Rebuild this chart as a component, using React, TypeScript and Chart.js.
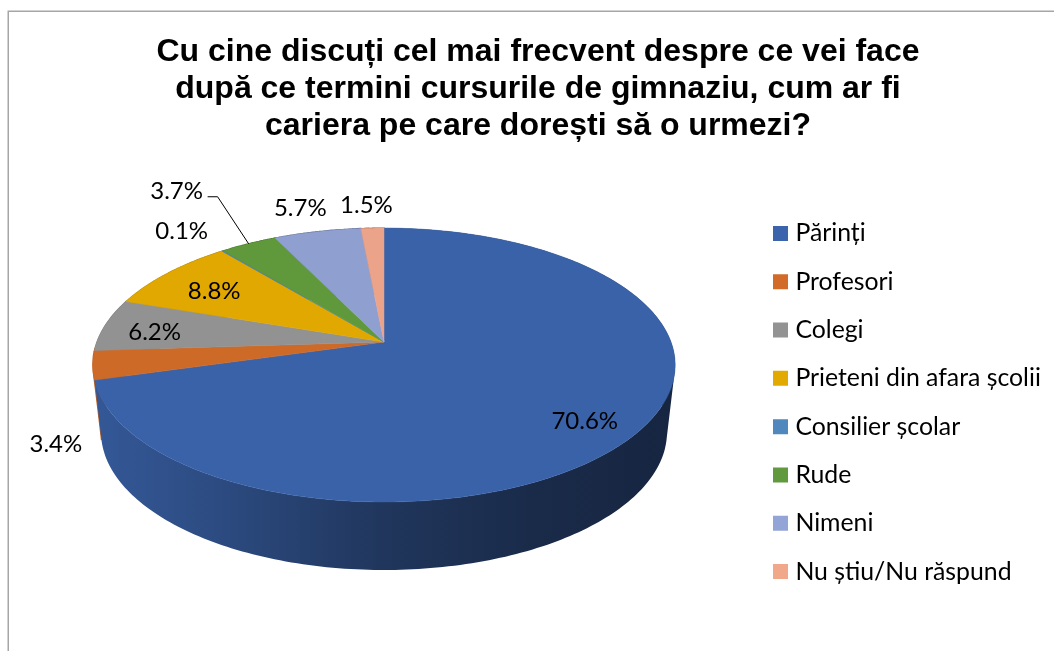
import React, { useEffect, useRef } from "react";
import { Chart, registerables } from "chart.js";

Chart.register(...registerables);

const titleLines = [
  "Cu cine discuți cel mai frecvent despre ce vei face",
  "după ce termini cursurile de gimnaziu, cum ar fi",
  "cariera pe care dorești să o urmezi?",
];
const categories = [
  "Părinți",
  "Profesori",
  "Colegi",
  "Prieteni din afara școlii",
  "Consilier școlar",
  "Rude",
  "Nimeni",
  "Nu știu/Nu răspund",
];
const shares = [70.6, 3.4, 6.2, 8.8, 0.1, 3.7, 5.7, 1.5];
const sliceColors = ["#3A62A8", "#CD6A28", "#929292", "#E0A800", "#4F86BA", "#5F993C", "#8F9FD0", "#EBA389"];
const legendColors = ["#3B64AD", "#D26B2A", "#939393", "#E2AA00", "#5087BD", "#619A3E", "#93A5D6", "#F1A78A"];
// label offset from the slice's rim mid-point
const labelOffsets: [number, number][] = [
  [-54, -10], [-37, 79], [49, 7], [46, 18], [-41, -20], [-72, -52], [-17, -23], [-6, -23],
];

// perspective pie geometry
const APEX_X = 384, APEX_Y = 342;
const R = 287, S = 133.1, K = 0.168;
const TOP_CY = 365, TOP_RX = 291, TOP_RY = 137;
const BOT_CY = 432, BOT_RX = 283, BOT_RY = 138;
const WALL_SHIFT = 0.052;
const LEGEND_LEFT = 754.5;
const LEGEND_SHIFT = 77;
const FONT = "Lato, 'Open Sans', sans-serif";

type Pt = { x: number; y: number };
const project = (t: number): Pt => {
  const u = Math.sin(t), v = Math.cos(t), w = 1 + K * v;
  return { x: APEX_X + (R * u) / w, y: APEX_Y - (S * v) / w };
};
const lower = (p: Pt): Pt => {
  const c = (p.x - APEX_X) / TOP_RX;
  const s = (p.y - TOP_CY) / TOP_RY;
  const s2 = Math.max(-1, Math.min(1, s - WALL_SHIFT * c * c));
  const c2 = Math.sign(c) * Math.sqrt(1 - s2 * s2);
  return { x: APEX_X + BOT_RX * c2, y: BOT_CY + BOT_RY * s2 };
};
const shade = (hex: string, f: number) => {
  const n = parseInt(hex.slice(1), 16);
  return `rgb(${((n >> 16) & 255) * f},${((n >> 8) & 255) * f},${(n & 255) * f})`;
};
const sweep = (a: number, b: number) => {
  const pts: number[] = [];
  const n = Math.max(2, Math.ceil(((b - a) * 180) / Math.PI));
  for (let i = 0; i <= n; i++) pts.push(a + ((b - a) * i) / n);
  return pts;
};
const signedArea = (q: Pt[]) =>
  q.reduce((sum, p, i) => {
    const n = q[(i + 1) % q.length];
    return sum + p.x * n.y - n.x * p.y;
  }, 0);

const frame = {
  id: "frame",
  beforeDraw(chart: any) {
    const { ctx, width, height } = chart;
    ctx.save();
    ctx.strokeStyle = "#a6a6a6";
    ctx.lineWidth = 1.5;
    ctx.beginPath();
    ctx.moveTo(8.25, height);
    ctx.lineTo(8.25, 11.25);
    ctx.lineTo(width, 11.25);
    ctx.stroke();
    ctx.restore();
  },
};

const pie3d = {
  id: "pie3d",
  afterLayout(chart: any) {
    chart.legend.left = LEGEND_LEFT;
    chart.legend.top += LEGEND_SHIFT;
    chart.legend.bottom += LEGEND_SHIFT;
  },
  beforeDatasetsDraw(chart: any) {
    const { ctx } = chart;
    const arcs = chart.getDatasetMeta(0).data;
    const span = (el: any): [number, number] => [el.startAngle + Math.PI / 2, el.endAngle + Math.PI / 2];
    ctx.save();
    // side wall, last slices first so the first slice sits on top at the left
    [...arcs].reverse().forEach((el: any, r: number) => {
      const i = arcs.length - 1 - r;
      const [a, b] = span(el);
      const top = sweep(a, b).map(project);
      const bottom = top.map(lower);
      const g = ctx.createLinearGradient(APEX_X - TOP_RX, 0, APEX_X + TOP_RX, 0);
      const c = sliceColors[i];
      g.addColorStop(0, shade(c, 0.9));
      g.addColorStop(0.2, shade(c, 0.78));
      g.addColorStop(0.5, shade(c, 0.55));
      g.addColorStop(0.75, shade(c, 0.44));
      g.addColorStop(1, shade(c, 0.38));
      ctx.fillStyle = g;
      ctx.strokeStyle = g;
      ctx.lineWidth = 1.2;
      ctx.beginPath();
      for (let j = 0; j + 1 < top.length; j++) {
        let q = [top[j], top[j + 1], bottom[j + 1], bottom[j]];
        if (signedArea(q) < 0) q = q.reverse();
        q.forEach((p, k) => (k ? ctx.lineTo(p.x, p.y) : ctx.moveTo(p.x, p.y)));
        ctx.closePath();
      }
      ctx.fill();
      if (i !== 0) ctx.stroke();
    });
    // top face
    arcs.forEach((el: any, i: number) => {
      const [a, b] = span(el);
      ctx.fillStyle = sliceColors[i];
      ctx.strokeStyle = sliceColors[i];
      ctx.lineWidth = 0.5;
      ctx.beginPath();
      ctx.moveTo(APEX_X, APEX_Y);
      sweep(a, b).map(project).forEach((p) => ctx.lineTo(p.x, p.y));
      ctx.closePath();
      ctx.fill();
      ctx.stroke();
    });
    ctx.restore();
    return false;
  },
  afterDraw(chart: any) {
    const { ctx } = chart;
    const arcs = chart.getDatasetMeta(0).data;
    ctx.save();
    ctx.fillStyle = "#000";
    ctx.font = `24px ${FONT}`;
    ctx.textAlign = "center";
    ctx.textBaseline = "middle";
    arcs.forEach((el: any, i: number) => {
      const mid = project((el.startAngle + el.endAngle) / 2 + Math.PI / 2);
      const [dx, dy] = labelOffsets[i];
      ctx.fillText(`${shares[i].toFixed(1)}%`, mid.x + dx, mid.y + dy);
      if (i === 5) {
        ctx.strokeStyle = "#000";
        ctx.lineWidth = 1;
        ctx.beginPath();
        ctx.moveTo(mid.x + dx + 31, mid.y + dy + 5);
        ctx.lineTo(mid.x + dx + 41, mid.y + dy + 5);
        ctx.lineTo(mid.x, mid.y);
        ctx.stroke();
      }
    });
    ctx.restore();
  },
};

export default function App() {
  const ref = useRef<HTMLCanvasElement>(null);
  useEffect(() => {
    const chart = new Chart(ref.current!, {
      type: "pie",
      data: {
        labels: categories,
        datasets: [{ data: shares, backgroundColor: sliceColors, borderWidth: 0 }],
      },
      plugins: [frame, pie3d],
      options: {
        animation: false,
        responsive: false,
        layout: { padding: { left: 22 } },
        plugins: {
          tooltip: { enabled: false },
          title: {
            display: true,
            text: titleLines,
            color: "#000",
            font: { family: "'Liberation Sans', Arial, sans-serif", size: 32, weight: "bold", lineHeight: 1.156 },
            padding: { top: 34, bottom: 8 },
          },
          legend: {
            position: "right",
            labels: {
              color: "#000",
              font: { family: FONT, size: 24.8, lineHeight: 1 },
              boxWidth: 5,
              boxHeight: 5,
              padding: 23.5,
              generateLabels: () =>
                categories.map((text, i) => ({
                  text,
                  index: i,
                  fillStyle: legendColors[i],
                  strokeStyle: legendColors[i],
                  lineWidth: 10,
                  fontColor: "#000",
                  hidden: false,
                })),
            },
          },
        },
      },
    } as any);
    return () => chart.destroy();
  }, []);
  return (
    <div style={{ position: "absolute", left: 0, top: 0, width: 1054, height: 651, overflow: "hidden", background: "#fff" }}>
      <canvas ref={ref} width={1054} height={651} style={{ display: "block" }} />
    </div>
  );
}
